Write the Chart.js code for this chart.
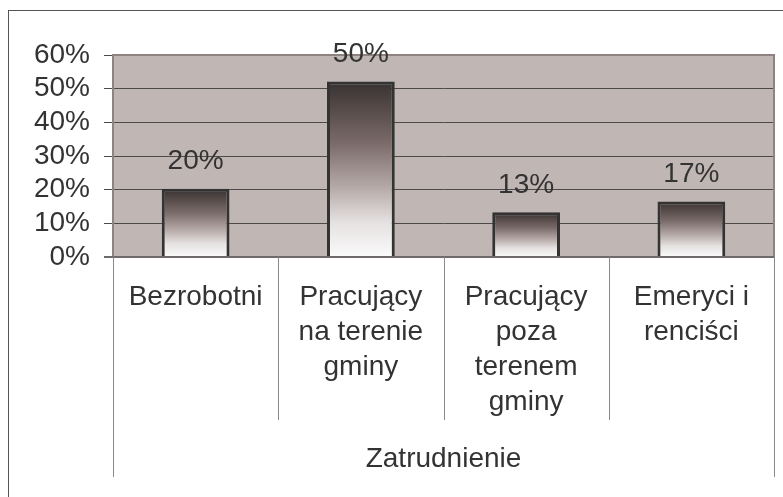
<!DOCTYPE html>
<html>
<head>
<meta charset="utf-8">
<script src="https://cdn.jsdelivr.net/npm/chart.js@4/dist/chart.umd.min.js"></script>
<style>
  html, body { margin: 0; padding: 0; background: #fff; overflow: hidden; }
  #wrap { position: relative; width: 783px; height: 497px; }
  #frame { position: absolute; left: 8px; top: 10px; width: 900px; height: 700px;
           border-left: 1px solid #555; border-top: 1px solid #555; }
  canvas { position: absolute; left: 0; top: 0; }
</style>
</head>
<body>
<div id="wrap">
  <div id="frame"></div>
  <canvas id="c" width="783" height="497"></canvas>
</div>
<script>
// ---- data ----
const categories = [
  ["Bezrobotni"],
  ["Pracujący", "na terenie", "gminy"],
  ["Pracujący", "poza", "terenem", "gminy"],
  ["Emeryci i", "renciści"]
];
const groupLabel = "Zatrudnienie";
const values = [20.3, 52.1, 13.3, 16.5];
const valueLabels = ["20%", "50%", "13%", "17%"];
const yTicks = [0, 10, 20, 30, 40, 50, 60];

const FONT = "'Liberation Sans', Arial, sans-serif";
const TEXT = '#333333';

function barGradient(ctx) {
  const chart = ctx.chart;
  const y = chart.scales && chart.scales.y;
  if (!chart.chartArea || !y || ctx.parsed === undefined) return '#888';
  const top = y.getPixelForValue(ctx.parsed.y);
  const bottom = y.getPixelForValue(0);
  if (!isFinite(top) || !isFinite(bottom) || top === bottom) return '#888';
  const g = chart.ctx.createLinearGradient(0, top, 0, bottom);
  g.addColorStop(0, '#363233');
  g.addColorStop(0.12, '#4f4543');
  g.addColorStop(0.35, '#7a6b69');
  g.addColorStop(0.6, '#b5a9a7');
  g.addColorStop(0.8, '#e4e1e0');
  g.addColorStop(1, '#fbfbfb');
  return g;
}

const plotBg = {
  id: 'plotBg',
  beforeDraw(chart) {
    const { ctx, chartArea: a } = chart;
    ctx.save();
    ctx.fillStyle = '#c0b6b4';
    ctx.fillRect(a.left, a.top, a.right - a.left, a.bottom - a.top);
    ctx.restore();
  },
  afterDatasetsDraw(chart) {
    const { ctx, chartArea: a } = chart;
    ctx.save();
    // plot frame
    ctx.strokeStyle = '#8e8381';
    ctx.lineWidth = 2;
    ctx.beginPath();
    ctx.moveTo(a.left, a.bottom);
    ctx.lineTo(a.left, a.top);
    ctx.lineTo(a.right, a.top);
    ctx.lineTo(a.right, a.bottom);
    ctx.stroke();
    ctx.strokeStyle = '#6e6a69';
    ctx.lineWidth = 2;
    ctx.beginPath();
    ctx.moveTo(a.left - 9, a.bottom);
    ctx.lineTo(a.right, a.bottom);
    ctx.stroke();
    // category dividers (multi-level axis)
    const x = chart.scales.x;
    const n = categories.length;
    ctx.strokeStyle = '#8a8a8a';
    ctx.lineWidth = 1;
    for (let i = 0; i <= n; i++) {
      const px = Math.round(x.getPixelForValue(i - 0.5)) + 0.5;
      const len = (i === 0 || i === n) ? 220 : 163;
      ctx.beginPath();
      ctx.moveTo(px, a.bottom);
      ctx.lineTo(px, a.bottom + len);
      ctx.stroke();
    }
    // value labels
    ctx.fillStyle = TEXT;
    ctx.font = '28px ' + FONT;
    ctx.textAlign = 'center';
    ctx.textBaseline = 'middle';
    const meta = chart.getDatasetMeta(0);
    meta.data.forEach((bar, i) => {
      ctx.fillText(valueLabels[i], bar.x, bar.y - 27);
    });
    ctx.restore();
  }
};

new Chart(document.getElementById('c'), {
  type: 'bar',
  data: {
    labels: categories,
    datasets: [{
      data: values,
      backgroundColor: barGradient,
      borderColor: '#333333',
      borderWidth: 3,
      barPercentage: 1,
      categoryPercentage: 0.41
    }]
  },
  plugins: [plotBg],
  options: {
    responsive: false,
    animation: false,
    devicePixelRatio: 1,
    layout: { padding: { left: 0, right: 9, top: 55, bottom: 0 } },
    plugins: { legend: { display: false }, tooltip: { enabled: false } },
    scales: {
      y: {
        min: 0, max: 60,
        afterFit(s) { s.width = 113; },
        afterBuildTicks(s) { s.ticks = yTicks.map(v => ({ value: v })); },
        border: { display: false },
        grid: { color: '#4d4a4a', lineWidth: 1, tickLength: 9, drawTicks: true },
        ticks: {
          autoSkip: false,
          padding: 14,
          color: TEXT,
          font: { family: FONT, size: 28 },
          callback: v => v + '%'
        }
      },
      x: {
        afterFit(s) { s.height = 240; },
        border: { display: false },
        grid: { display: false, drawTicks: false },
        ticks: {
          autoSkip: false, maxRotation: 0, minRotation: 0,
          padding: 23,
          color: TEXT,
          font: { family: FONT, size: 28, lineHeight: 1.25 }
        },
        title: {
          display: true,
          text: groupLabel,
          color: TEXT,
          font: { family: FONT, size: 28 },
          padding: { top: 0, bottom: 21 }
        }
      }
    }
  }
});
</script>
</body>
</html>
